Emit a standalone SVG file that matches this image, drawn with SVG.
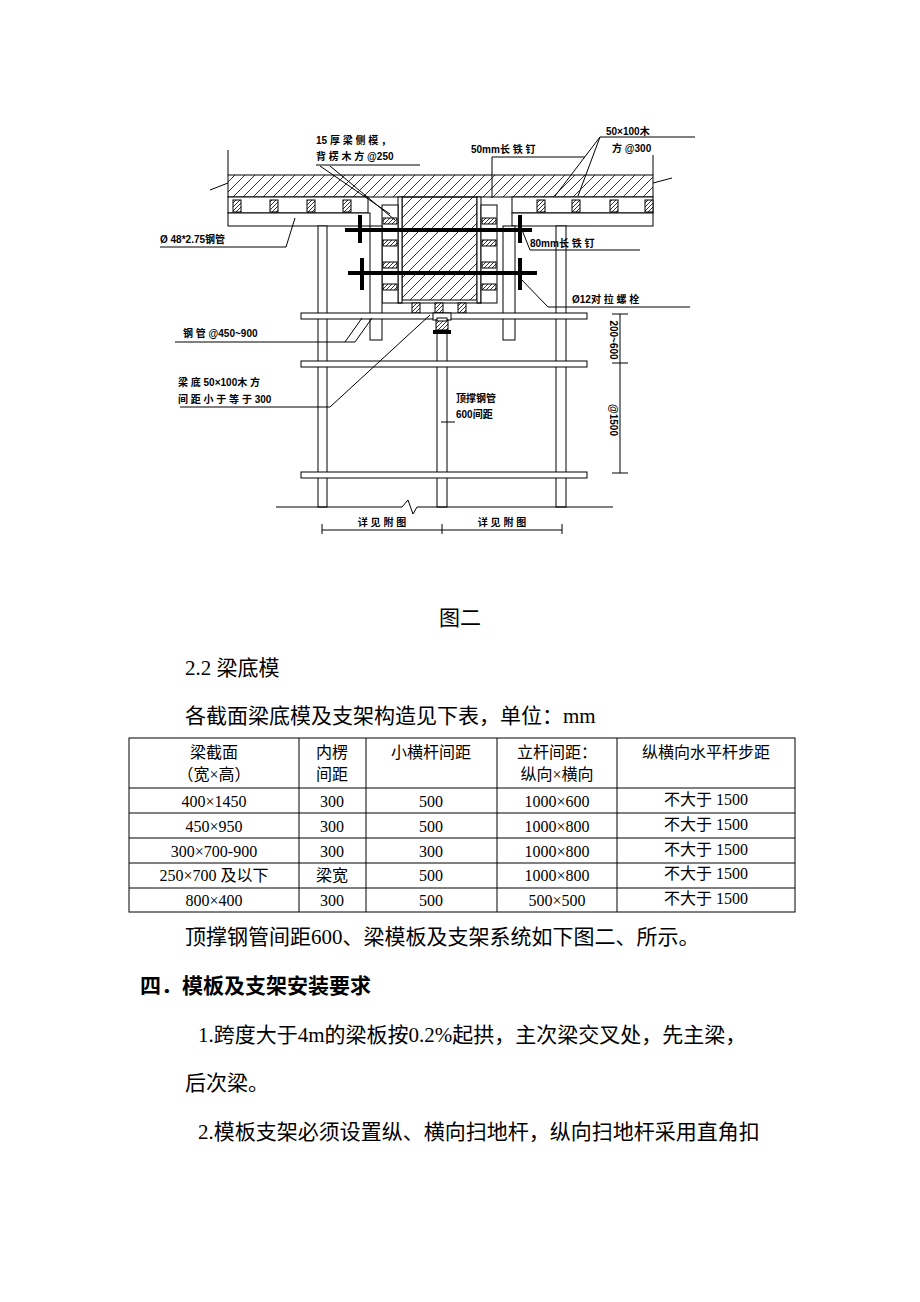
<svg xmlns="http://www.w3.org/2000/svg" width="920" height="1302" viewBox="0 0 920 1302">
<style>
.l{stroke:#000;stroke-width:1;fill:none}
.w{stroke:#000;stroke-width:1;fill:#fff}
.hh{stroke:#000;stroke-width:1;fill:url(#h)}
.tb{stroke:#000;stroke-width:4;fill:none}
.s{font-family:"Liberation Sans","Noto Sans CJK SC",sans-serif;font-size:10px;font-weight:bold;fill:#000}
.b{font-family:"Liberation Serif","Noto Sans CJK SC",serif;font-size:21px;fill:#000}
.t{font-family:"Liberation Serif","Noto Sans CJK SC",serif;font-size:16px;fill:#000;text-anchor:middle}
</style>
<defs>
<pattern id="h" width="10" height="10" patternUnits="userSpaceOnUse"><path d="M0 10L10 0M-2 2L2 -2M8 12L12 8" stroke="#000" stroke-width="0.8" fill="none"/></pattern>
<pattern id="j" width="4" height="4" patternUnits="userSpaceOnUse"><rect width="4" height="4" fill="#fff"/><path d="M0 4L4 0" stroke="#000" stroke-width="0.8"/></pattern>
</defs>
<g id="drawing">
<g id="slab"><rect x="228" y="175" width="425" height="22" class="hh"/>
<line class="l" x1="228" y1="150" x2="228" y2="175"/><line class="l" x1="653" y1="155" x2="653" y2="175"/>
<path class="l" d="M210 190L228 183M653 183L672 178"/></g>
<g id="beam"><rect x="402" y="197" width="75" height="103" class="hh"/>
<rect x="398" y="197" width="4" height="106" class="w"/><rect x="477" y="197" width="4" height="106" class="w"/>
<line class="l" x1="398" y1="303" x2="481" y2="303"/>
<g fill="url(#j)" stroke="#000"><rect x="412" y="303" width="8" height="10"/><rect x="435" y="303" width="8" height="10"/><rect x="458" y="303" width="8" height="10"/></g>
<rect x="382" y="205" width="16" height="98" class="w"/><rect x="481" y="205" width="16" height="98" class="w"/>
<g fill="url(#j)" stroke="#000"><rect x="383" y="218" width="14" height="6"/><rect x="383" y="240" width="14" height="6"/><rect x="383" y="262" width="14" height="6"/><rect x="383" y="284" width="14" height="6"/><rect x="482" y="218" width="14" height="6"/><rect x="482" y="240" width="14" height="6"/><rect x="482" y="262" width="14" height="6"/><rect x="482" y="284" width="14" height="6"/></g>
</g>
<g id="joists">
<rect x="228" y="197" width="140" height="16" class="w"/><rect x="512" y="197" width="141" height="16" class="w"/>
<g fill="url(#j)" stroke="#000"><rect x="233" y="200" width="8" height="12"/><rect x="270" y="200" width="8" height="12"/><rect x="307" y="200" width="8" height="12"/><rect x="343" y="200" width="8" height="12"/><rect x="537" y="200" width="8" height="12"/><rect x="572" y="200" width="8" height="12"/><rect x="610" y="200" width="8" height="12"/><rect x="645" y="200" width="8" height="12"/></g>
<rect x="228" y="213" width="142" height="13" class="w"/><rect x="512" y="213" width="141" height="13" class="w"/>
</g>
<g id="poles">
<rect x="318" y="226" width="9" height="281" class="w"/><rect x="556" y="226" width="10" height="281" class="w"/>
<rect x="370" y="226" width="12" height="114" class="w"/><rect x="503" y="226" width="12" height="114" class="w"/>
<rect x="437" y="320" width="10" height="187" class="w"/>
<rect x="301" y="313" width="286" height="6" class="w"/><rect x="301" y="361" width="286" height="6" class="w"/><rect x="301" y="472" width="286" height="6" class="w"/>
<rect x="433" y="313" width="18" height="7" class="w"/><rect x="436" y="320" width="12" height="10" fill="url(#j)" stroke="#000"/>
<rect x="433" y="330" width="18" height="4" fill="#000"/>
<rect x="437" y="318" width="10" height="3" class="w"/>
</g>
<g id="bolts">
<line class="tb" x1="345" y1="230" x2="532" y2="230"/><line class="tb" x1="360" y1="215" x2="360" y2="243"/><line class="tb" x1="520" y1="215" x2="520" y2="243"/>
<line class="tb" x1="348" y1="273" x2="537" y2="273"/><line class="tb" x1="362" y1="258" x2="362" y2="290"/><line class="tb" x1="520" y1="258" x2="520" y2="290"/>
</g>
<g id="ground"><path class="l" d="M276 507H402L408 500L413 514L417 507H613"/>
<path class="l" d="M322 530H562M322 524V534M442 524V534M562 524V534"/>
<path class="l" d="M620 314V473M612 314H628M612 363H628M612 473H628"/>
</g>
</g>
<g id="connectors">
<path class="l" d="M316 165H420M320 166L390 214M330 166L395 220"/>
<path class="l" d="M492 157H585M492 157V198"/>
<path class="l" d="M600 137H695M600 137L555 196M600 137L578 196"/>
<path class="l" d="M160 247H286L295 218"/>
<path class="l" d="M530 250H640M530 250L520 225"/>
<path class="l" d="M548 307H690M548 307L520 278"/>
<path class="l" d="M175 342H355L372 318M345 342L362 318"/>
<path class="l" d="M180 407H330L430 315"/>
<path class="l" d="M441 422H455"/>
</g>
<g id="labels">
<text class="s" x="316" y="144" font-size="9">15 厚 梁 侧 模 ，</text>
<text class="s" x="316" y="160">背 楞 木 方 @250</text>
<text class="s" x="471" y="153" font-weight="normal" font-size="12">50mm<tspan font-weight="bold" font-size="10">长 铁 钉</tspan></text>
<text class="s" x="606" y="135" font-weight="normal" font-size="13">50×100<tspan font-weight="bold" font-size="10">木</tspan></text>
<text class="s" x="612" y="152">方 @300</text>
<text class="s" x="160" y="243" font-weight="normal">Ø 48*2.75钢管</text>
<text class="s" x="530" y="247" font-weight="normal" font-size="13">80mm<tspan font-weight="bold" font-size="10">长 铁 钉</tspan></text>
<text class="s" x="572" y="303" font-weight="normal" font-size="12">Ø12<tspan font-weight="bold" font-size="10">对 拉 螺 栓</tspan></text>
<text class="s" x="183" y="337">钢 管 @450~900</text>
<text class="s" x="178" y="386">梁 底 50×100木 方</text>
<text class="s" x="178" y="403">间 距 小 于 等 于 300</text>
<text class="s" x="456" y="402" font-weight="normal" font-size="13">顶撑钢管</text>
<text class="s" x="456" y="418" font-weight="normal" font-size="13">600间距</text>
<text class="s" x="382" y="526" text-anchor="middle">详 见 附 图</text>
<text class="s" x="502" y="526" text-anchor="middle">详 见 附 图</text>
<text class="s" x="610" y="340" font-weight="normal" font-size="11" text-anchor="middle" transform="rotate(90 610 340)">200~600</text>
<text class="s" x="610" y="420" font-weight="normal" font-size="11" text-anchor="middle" transform="rotate(90 610 420)">@1500</text>
</g>
<g id="text">
<text class="b" x="460" y="625" text-anchor="middle" font-size="19">图二</text>
<text class="b" x="185" y="675" font-size="19">2.2 梁底模</text>
<text class="b" x="185" y="723" font-size="19">各截面梁底模及支架构造见下表，单位：mm</text>
<text class="b" x="185" y="944" font-size="19">顶撑钢管间距600、梁模板及支架系统如下图二、所示。</text>
<text class="b" x="140" y="993" font-weight="bold" font-size="20">四．模板及支架安装要求</text>
<text class="b" x="198" y="1042">1.跨度大于4m的梁板按0.2%起拱，主次梁交叉处，先主梁，</text>
<text class="b" x="185" y="1090">后次梁。</text>
<text class="b" x="198" y="1139">2.模板支架必须设置纵、横向扫地杆，纵向扫地杆采用直角扣</text>
</g>
<g id="table">
<rect x="129" y="738" width="666" height="174" class="l"/>
<path class="l" d="M299 738V912M366 738V912M497 738V912M617 738V912M129 788H795M129 813H795M129 838H795M129 863H795M129 888H795"/>
<text class="t" x="214" y="758">梁截面</text><text class="t" x="214" y="780">（宽×高）</text>
<text class="t" x="332" y="758">内楞</text><text class="t" x="332" y="780">间距</text>
<text class="t" x="431" y="758">小横杆间距</text>
<text class="t" x="557" y="758">立杆间距：</text><text class="t" x="557" y="780">纵向×横向</text>
<text class="t" x="706" y="758">纵横向水平杆步距</text>
<text class="t" x="214" y="807">400×1450</text><text class="t" x="332" y="807">300</text><text class="t" x="431" y="807">500</text><text class="t" x="557" y="807">1000×600</text><text class="t" x="706" y="805">不大于 1500</text>
<text class="t" x="214" y="832">450×950</text><text class="t" x="332" y="832">300</text><text class="t" x="431" y="832">500</text><text class="t" x="557" y="832">1000×800</text><text class="t" x="706" y="830">不大于 1500</text>
<text class="t" x="214" y="857">300×700-900</text><text class="t" x="332" y="857">300</text><text class="t" x="431" y="857">300</text><text class="t" x="557" y="857">1000×800</text><text class="t" x="706" y="855">不大于 1500</text>
<text class="t" x="214" y="881">250×700 及以下</text><text class="t" x="332" y="881">梁宽</text><text class="t" x="431" y="881">500</text><text class="t" x="557" y="881">1000×800</text><text class="t" x="706" y="879">不大于 1500</text>
<text class="t" x="214" y="906">800×400</text><text class="t" x="332" y="906">300</text><text class="t" x="431" y="906">500</text><text class="t" x="557" y="906">500×500</text><text class="t" x="706" y="904">不大于 1500</text>
</g>
</svg>
